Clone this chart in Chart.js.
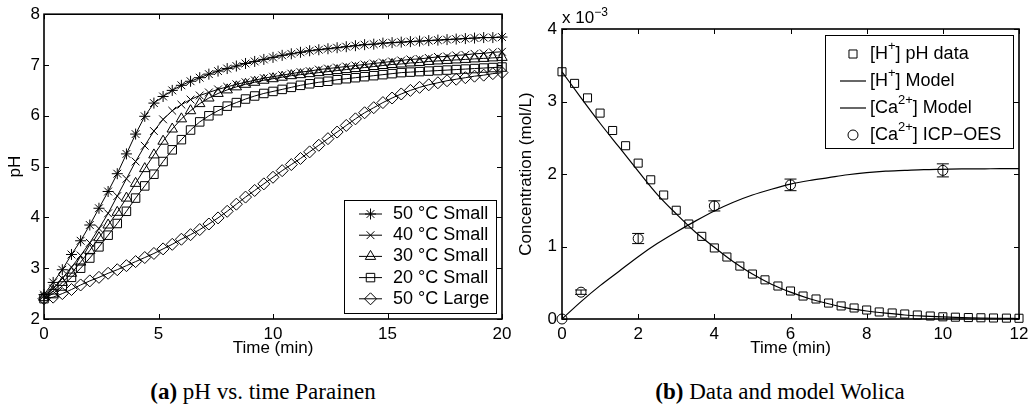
<!DOCTYPE html>
<html>
<head>
<meta charset="utf-8">
<script src="https://cdn.jsdelivr.net/npm/chart.js@4.4.1/dist/chart.umd.min.js"></script>
<style>
  body { margin: 0; background: #fff; width: 1035px; height: 407px; position: relative; overflow: hidden; }
  canvas { position: absolute; top: 0; }
  #phChart { left: 0; }
  #concChart { left: 505px; }
  .caption { position: absolute; top: 380px; line-height: 24px; font-family: 'Liberation Serif', 'Times New Roman', serif;
             font-size: 23px; color: #000; white-space: nowrap; transform: translateX(-50%); }
</style>
</head>
<body>
<canvas id="phChart" width="520" height="365"></canvas>
<canvas id="concChart" width="530" height="365"></canvas>
<div class="caption" style="left:263px"><b>(a)</b> pH vs. time Parainen</div>
<div class="caption" style="left:780px"><b>(b)</b> Data and model Wolica</div>
<script>
const FONT = "'Liberation Sans', Arial, Helvetica, sans-serif";
Chart.defaults.font.family = FONT;
Chart.defaults.font.size = 17;
Chart.defaults.font.weight = 'normal';
Chart.defaults.color = '#000';

// (a) pH vs. time, Parainen
const timeA = [0, 0.4, 0.8, 1.2, 1.6, 2, 2.4, 2.8, 3.2, 3.6, 4, 4.4, 4.8, 5.2, 5.6, 6, 6.4, 6.8, 7.2, 7.6,
  8, 8.4, 8.8, 9.2, 9.6, 10, 10.4, 10.8, 11.2, 11.6, 12, 12.4, 12.8, 13.2, 13.6, 14, 14.4, 14.8, 15.2, 15.6,
  16, 16.4, 16.8, 17.2, 17.6, 18, 18.4, 18.8, 19.2, 19.6, 20];
const ph50Small = [2.48, 2.72, 2.97, 3.27, 3.54, 3.85, 4.18, 4.51, 4.86, 5.25, 5.64, 5.99, 6.25, 6.38, 6.50, 6.60, 6.68, 6.75, 6.82, 6.88,
  6.93, 6.98, 7.03, 7.07, 7.11, 7.15, 7.19, 7.22, 7.25, 7.28, 7.30, 7.32, 7.34, 7.36, 7.38, 7.40, 7.41, 7.43, 7.44, 7.45,
  7.46, 7.47, 7.48, 7.49, 7.50, 7.51, 7.52, 7.53, 7.54, 7.54, 7.55];
const ph40Small = [2.45, 2.60, 2.80, 3.02, 3.25, 3.50, 3.78, 4.08, 4.42, 4.76, 5.10, 5.41, 5.70, 5.93, 6.10, 6.22, 6.32, 6.40, 6.46, 6.52,
  6.57, 6.62, 6.66, 6.70, 6.74, 6.77, 6.80, 6.83, 6.86, 6.88, 6.91, 6.93, 6.95, 6.97, 6.99, 7.01, 7.03, 7.05, 7.07, 7.09,
  7.11, 7.12, 7.14, 7.16, 7.17, 7.19, 7.20, 7.22, 7.23, 7.25, 7.26];
const ph30Small = [2.42, 2.55, 2.72, 2.90, 3.12, 3.35, 3.60, 3.85, 4.10, 4.38, 4.67, 4.96, 5.23, 5.50, 5.74, 5.94, 6.10, 6.24, 6.35, 6.44,
  6.51, 6.57, 6.62, 6.66, 6.70, 6.73, 6.76, 6.79, 6.81, 6.83, 6.85, 6.87, 6.89, 6.91, 6.93, 6.95, 6.97, 6.99, 7.01, 7.02,
  7.04, 7.05, 7.07, 7.08, 7.09, 7.10, 7.11, 7.12, 7.13, 7.14, 7.15];
const ph20Small = [2.40, 2.50, 2.65, 2.82, 3.00, 3.20, 3.42, 3.65, 3.88, 4.12, 4.38, 4.62, 4.85, 5.10, 5.33, 5.53, 5.72, 5.88, 6.00, 6.10,
  6.19, 6.26, 6.33, 6.39, 6.44, 6.48, 6.52, 6.56, 6.60, 6.63, 6.66, 6.68, 6.71, 6.73, 6.75, 6.77, 6.79, 6.81, 6.83, 6.85,
  6.86, 6.87, 6.88, 6.89, 6.90, 6.91, 6.92, 6.93, 6.94, 6.95, 6.96];
const ph50Large = [2.40, 2.43, 2.50, 2.58, 2.67, 2.75, 2.82, 2.90, 2.97, 3.05, 3.13, 3.21, 3.29, 3.38, 3.47, 3.57, 3.66, 3.76, 3.87, 3.99,
  4.12, 4.26, 4.40, 4.53, 4.66, 4.79, 4.92, 5.04, 5.16, 5.29, 5.42, 5.55, 5.68, 5.81, 5.94, 6.06, 6.16, 6.26, 6.35, 6.43,
  6.50, 6.56, 6.61, 6.65, 6.69, 6.72, 6.75, 6.78, 6.80, 6.83, 6.85];
const xTicksA = [0, 5, 10, 15, 20];
const yTicksA = [2, 3, 4, 5, 6, 7, 8];

// (b) data and model, Wolica (concentrations in 10^-3 mol/L)
const timeB = [0, 0.33, 0.67, 1, 1.33, 1.67, 2, 2.33, 2.67, 3, 3.33, 3.67, 4, 4.33, 4.67, 5, 5.33, 5.67, 6,
  6.33, 6.67, 7, 7.33, 7.67, 8, 8.33, 8.67, 9, 9.33, 9.67, 10, 10.33, 10.67, 11, 11.33, 11.67, 12];
const hData = [3.41, 3.25, 3.05, 2.84, 2.60, 2.39, 2.15, 1.92, 1.71, 1.50, 1.31, 1.14, 0.98, 0.855, 0.73, 0.62, 0.54, 0.455, 0.386,
  0.317, 0.276, 0.22, 0.18, 0.152, 0.124, 0.097, 0.083, 0.069, 0.055, 0.041, 0.03, 0.025, 0.02, 0.017, 0.014, 0.012, 0.01];
const timeModel = [0, 0.5, 1, 1.5, 2, 2.5, 3, 3.5, 4, 4.5, 5, 5.5, 6, 6.5, 7, 7.5, 8, 8.5, 9, 9.5, 10, 10.5, 11, 11.5, 12];
const hModel = [3.41, 3.05, 2.70, 2.37, 2.04, 1.72, 1.45, 1.20, 0.99, 0.79, 0.62, 0.48, 0.37, 0.28, 0.21, 0.15, 0.11, 0.08,
  0.055, 0.04, 0.028, 0.02, 0.014, 0.01, 0.007];
const caModel = [0, 0.24, 0.46, 0.66, 0.86, 1.04, 1.20, 1.35, 1.49, 1.61, 1.71, 1.79, 1.86, 1.91, 1.95, 1.99, 2.02, 2.04,
  2.05, 2.06, 2.065, 2.07, 2.07, 2.075, 2.075];
const icpTime = [0, 0.5, 2, 4, 6, 10];
const icpCa = [0, 0.37, 1.11, 1.56, 1.85, 2.05];
const icpErr = [0, 0.03, 0.07, 0.07, 0.08, 0.09];
const xTicksB = [0, 2, 4, 6, 8, 10, 12];
const yTicksB = [0, 1, 2, 3, 4];

const xy = (xs, ys) => xs.map((x, i) => ({ x, y: ys[i] }));

// superscript glyphs are drawn raised and smaller
const SUP = { '⁺': '+', '²': '2', '³': '3', '⁻': '−' };
function drawRich(ctx, text, x, y, size) {
  let cx = x, run = '', sup = false;
  const flush = () => {
    if (!run) return;
    ctx.font = (sup ? Math.round(size * 0.72) : size) + 'px ' + FONT;
    ctx.fillText(run, cx, sup ? y - size * 0.42 : y);
    cx += ctx.measureText(run).width;
    run = '';
  };
  for (const ch of text) {
    const s = ch in SUP;
    if (s !== sup) { flush(); sup = s; }
    run += s ? SUP[ch] : ch;
  }
  flush();
}

const frame = {
  id: 'frame',
  afterDatasetsDraw(chart) {
    const { ctx, chartArea: a, scales } = chart;
    const tl = 5;
    ctx.save();
    ctx.strokeStyle = '#000';
    ctx.lineWidth = 1;
    ctx.beginPath();
    scales.x.ticks.forEach(t => {
      const p = Math.round(scales.x.getPixelForValue(t.value)) + 0.5;
      ctx.moveTo(p, a.bottom); ctx.lineTo(p, a.bottom - tl);
      ctx.moveTo(p, a.top); ctx.lineTo(p, a.top + tl);
    });
    scales.y.ticks.forEach(t => {
      const p = Math.round(scales.y.getPixelForValue(t.value)) + 0.5;
      ctx.moveTo(a.left, p); ctx.lineTo(a.left + tl, p);
      ctx.moveTo(a.right, p); ctx.lineTo(a.right - tl, p);
    });
    ctx.stroke();
    ctx.lineWidth = 1.6;
    ctx.strokeRect(a.left, a.top, a.right - a.left, a.bottom - a.top);
    ctx.restore();
  }
};

const boxLegend = {
  id: 'boxLegend',
  afterDraw(chart, args, o) {
    const { ctx } = chart;
    ctx.save();
    ctx.fillStyle = '#fff';
    ctx.fillRect(o.x, o.y, o.w, o.h);
    ctx.strokeStyle = '#000';
    ctx.lineWidth = 1;
    ctx.strokeRect(o.x + 0.5, o.y + 0.5, o.w, o.h);
    ctx.textBaseline = 'middle';
    chart.data.datasets.forEach((ds, i) => {
      const cy = o.y + o.first + i * o.step;
      const x1 = o.x + o.lineFrom, x2 = o.x + o.lineTo;
      ctx.strokeStyle = '#000';
      if (ds.showLine !== false) {
        ctx.lineWidth = ds.borderWidth;
        ctx.beginPath(); ctx.moveTo(x1, cy); ctx.lineTo(x2, cy); ctx.stroke();
      }
      if (ds.pointRadius > 0) {
        ctx.lineWidth = 1;
        ctx.fillStyle = 'rgba(0,0,0,0)';
        Chart.helpers.drawPoint(ctx, { pointStyle: ds.pointStyle, radius: ds.pointRadius, borderWidth: 1, rotation: 0 }, (x1 + x2) / 2, cy);
      }
      ctx.fillStyle = '#000';
      drawRich(ctx, ds.label, o.x + o.textX, cy, o.size);
    });
    ctx.restore();
  }
};

const errorBars = {
  id: 'errorBars',
  afterDatasetsDraw(chart) {
    const { ctx, chartArea, scales: { x, y } } = chart;
    ctx.save();
    ctx.strokeStyle = '#000';
    ctx.lineWidth = 1;
    ctx.beginPath();
    icpTime.forEach((t, i) => {
      if (!icpErr[i]) return;
      const px = x.getPixelForValue(t);
      const top = y.getPixelForValue(icpCa[i] + icpErr[i]);
      const bot = y.getPixelForValue(icpCa[i] - icpErr[i]);
      ctx.moveTo(px, top); ctx.lineTo(px, bot);
      ctx.moveTo(px - 6, top); ctx.lineTo(px + 6, top);
      ctx.moveTo(px - 6, bot); ctx.lineTo(px + 6, bot);
    });
    ctx.stroke();
    ctx.fillStyle = '#000';
    ctx.textBaseline = 'alphabetic';
    drawRich(ctx, 'x 10⁻³', chartArea.left, 23, 17);
    ctx.restore();
  }
};

function markerSeries(label, xs, ys, style, r, line) {
  return {
    label, data: xy(xs, ys), showLine: line, pointStyle: style, pointRadius: r,
    borderColor: '#000', borderWidth: 1, pointBorderColor: '#000', pointBorderWidth: 1,
    pointBackgroundColor: 'rgba(0,0,0,0)', tension: 0, clip: false
  };
}

function lineSeries(label, xs, ys) {
  return {
    label, data: xy(xs, ys), pointRadius: 0, borderColor: '#000', borderWidth: 1.2,
    cubicInterpolationMode: 'monotone', clip: false
  };
}

function scales(xr, xt, xTitle, yr, yt, yTitle, yWidth, yTitlePad, yTickPad) {
  const titleFont = { size: 17, weight: 'normal' };
  return {
    x: {
      type: 'linear', min: xr[0], max: xr[1],
      afterBuildTicks: s => { s.ticks = xt.map(v => ({ value: v })); },
      afterFit: s => { s.height = 46; },
      grid: { display: false, drawTicks: false }, border: { display: false },
      ticks: { padding: 5 },
      title: { display: true, text: xTitle, font: titleFont, padding: { top: 0, bottom: 6 } }
    },
    y: {
      type: 'linear', min: yr[0], max: yr[1],
      afterBuildTicks: s => { s.ticks = yt.map(v => ({ value: v })); },
      afterFit: s => { s.width = yWidth; },
      grid: { display: false, drawTicks: false }, border: { display: false },
      ticks: { padding: yTickPad },
      title: { display: true, text: yTitle, font: titleFont, padding: { top: yTitlePad, bottom: 0 } }
    }
  };
}

new Chart(document.getElementById('phChart'), {
  type: 'line',
  data: {
    datasets: [
      markerSeries('50 °C Small', timeA, ph50Small, 'star', 5.5, true),
      markerSeries('40 °C Small', timeA, ph40Small, 'crossRot', 5.5, true),
      markerSeries('30 °C Small', timeA, ph30Small, 'triangle', 6, true),
      markerSeries('20 °C Small', timeA, ph20Small, 'rect', 6, true),
      markerSeries('50 °C Large', timeA, ph50Large, 'rectRot', 6, true)
    ]
  },
  options: {
    responsive: false, animation: false, events: [], devicePixelRatio: 1,
    layout: { padding: { top: 11, right: 18, left: 0, bottom: 0 } },
    scales: scales([0, 20], xTicksA, 'Time (min)', [2, 8], yTicksA, 'pH', 44, 5, 4),
    plugins: {
      legend: { display: false }, tooltip: { enabled: false },
      boxLegend: { x: 344, y: 200, w: 152, h: 113, first: 14, step: 21.2, lineFrom: 15, lineTo: 38, textX: 49, size: 18 }
    }
  },
  plugins: [frame, boxLegend]
});

new Chart(document.getElementById('concChart'), {
  type: 'line',
  data: {
    datasets: [
      markerSeries('[H⁺] pH data', timeB, hData, 'rect', 5.7, false),
      lineSeries('[H⁺] Model', timeModel, hModel),
      lineSeries('[Ca²⁺] Model', timeModel, caModel),
      markerSeries('[Ca²⁺] ICP−OES', icpTime, icpCa, 'circle', 5, false)
    ]
  },
  options: {
    responsive: false, animation: false, events: [], devicePixelRatio: 1,
    layout: { padding: { top: 29, right: 16, left: 0, bottom: 0 } },
    scales: scales([0, 12], xTicksB, 'Time (min)', [0, 4], yTicksB, 'Concentration (mol/L)', 57, 11, 5),
    plugins: {
      legend: { display: false }, tooltip: { enabled: false },
      boxLegend: { x: 320, y: 35, w: 188, h: 113, first: 19, step: 27, lineFrom: 15, lineTo: 41, textX: 45, size: 18 }
    }
  },
  plugins: [frame, errorBars, boxLegend]
});
</script>
</body>
</html>
